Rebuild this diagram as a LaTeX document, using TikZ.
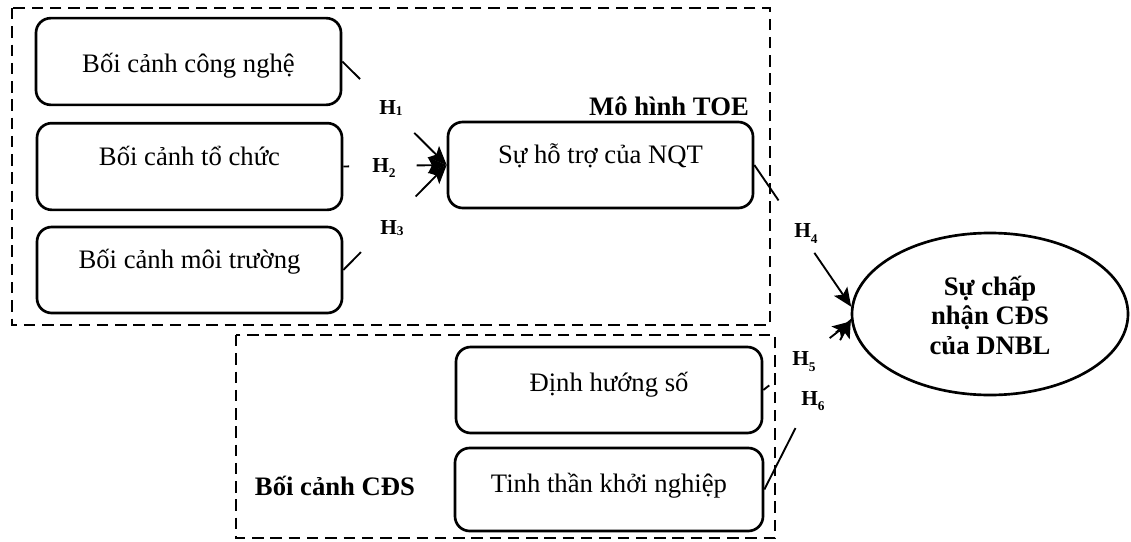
\documentclass[tikz,border=0pt]{standalone}
\usepackage{fontspec}
\setmainfont{Liberation Serif}
\usetikzlibrary{arrows.meta,calc,shapes.geometric}
% put the baseline of #2 at #1 below the node centre
\newcommand\atbase[2]{\raisebox{-#1}[0pt][0pt]{#2}}
% hypothesis label: bold H with a lowered digit
\newcommand\hsub[2]{H\raisebox{-#1}{\fontsize{10}{12}\selectfont #2}}

\begin{document}
\begin{tikzpicture}[x=0.75pt,y=-0.75pt,
  box/.style={draw, line width=2pt, rounded corners=11pt, inner sep=0pt,
    minimum width=228.75pt, minimum height=65pt,
    font=\fontsize{20}{24}\selectfont},
  frame/.style={line width=2pt, dash pattern=on 8.6pt off 5.1pt},
  link/.style={line width=1.4pt},
  arr/.style={link, -{Stealth[length=14pt,width=12pt,inset=3pt]}},
  hlab/.style={anchor=base west, inner sep=0pt, font=\bfseries\fontsize{16}{18}\selectfont},
  title/.style={anchor=base, inner sep=0pt, font=\bfseries\fontsize{20}{24}\selectfont}]
\useasboundingbox (0,0) rectangle (1131,542);

% group frames
\draw[frame] (12,8) rectangle (770,325);
\draw[frame] (236,335) rectangle (775,538);

% factor boxes
\node[box] (b1) at (188.5,61.5) {\atbase{8.6pt}{Bối cảnh công nghệ}};
\node[box] (b2) at (189.5,166.5) {\atbase{-0.4pt}{Bối cảnh tổ chức}};
\node[box, minimum height=64.5pt] (b3) at (189.5,270) {\atbase{-1.2pt}{Bối cảnh môi trường}};
\node[box, minimum height=64.5pt] (nqt) at (600.5,165) {\atbase{-1.5pt}{Sự hỗ trợ của NQT}};
\node[box, minimum width=229.5pt, minimum height=64.5pt] (dhs) at (609,390) {\atbase{0.75pt}{Định hướng số}};
\node[box, minimum width=231pt, minimum height=62.25pt] (tt) at (609,489.5) {\atbase{1.9pt}{Tinh thần khởi nghiệp}};

% outcome
\node[draw, ellipse, line width=2pt, inner sep=0pt, minimum width=207pt, minimum height=121.5pt,
  font=\bfseries\fontsize{20}{22}\selectfont] (ell) at (990,314)
  {\atbase{-14.25pt}{\makebox[0pt]{Sự chấp}}%
   \atbase{7.5pt}{\makebox[0pt]{nhận CĐS}}%
   \atbase{30pt}{\makebox[0pt]{của DNBL}}};

% group titles
\node[title] (toe) at (669,115) {Mô hình TOE};
\node[title] (cds) at (335,495) {Bối cảnh CĐS};

% hypotheses: each path is broken where its label sits
\draw[link] (b1.east) -- ($(b1.east)!0.17!(nqt.west)$);
\draw[arr] ($(b1.east)!0.69!(nqt.west)$) -- (nqt.west);
\draw[link] (b2.east) -- ($(b2.east)!0.057!(nqt.west)$);
\draw[arr] ($(b2.east)!0.71!(nqt.west)$) -- (nqt.west);
\draw[link] (b3.east) -- ($(b3.east)!0.17!(nqt.west)$);
\draw[arr] ($(b3.east)!0.70!(nqt.west)$) -- (nqt.west);

\draw[link] (nqt.east) -- ($(nqt.east)!0.25!(ell.177.5)$);
\draw[arr] ($(nqt.east)!0.62!(ell.177.5)$) -- (ell.177.5);
\draw[link] (dhs.east) -- ($(dhs.east)!0.067!(ell.183)$);
\draw[arr] ($(dhs.east)!0.755!(ell.183)$) -- (ell.183);
\draw[link] (tt.east) -- ($(tt.east)!0.36!(ell.182)$);
\draw[arr] ($(tt.east)!0.875!(ell.182)$) -- (ell.182);

\node[hlab] (h1) at (379,114) {\hsub{0.75pt}{1}};
\node[hlab] (h2) at (372,172) {\hsub{4pt}{2}};
\node[hlab] (h3) at (380,234) {\hsub{0.75pt}{3}};
\node[hlab] (h4) at (794,237) {\hsub{4.5pt}{4}};
\node[hlab] (h5) at (792,365) {\hsub{5pt}{5}};
\node[hlab] (h6) at (801,405) {\hsub{4pt}{6}};
\end{tikzpicture}
\end{document}
